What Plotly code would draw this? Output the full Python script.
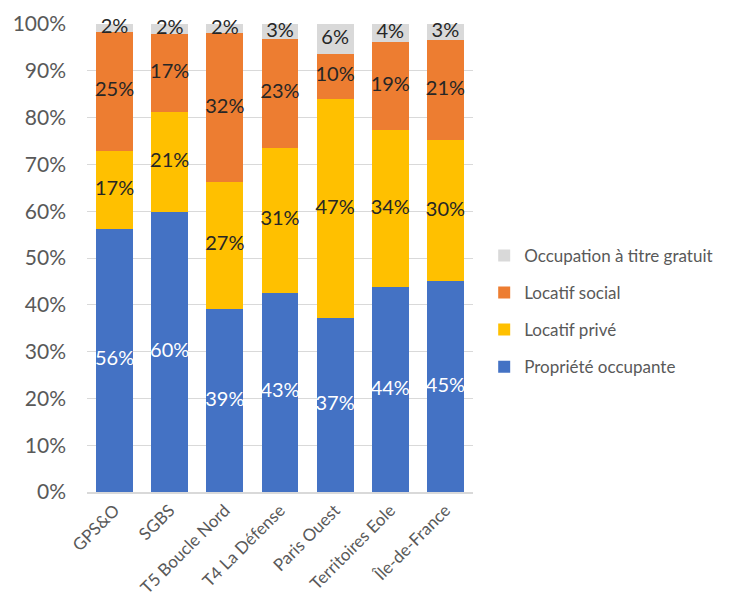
import plotly.graph_objects as go

categories = ["GPS&O", "SGBS", "T5 Boucle Nord", "T4 La Défense", "Paris Ouest", "Territoires Eole", "Île-de-France"]
proprietes = [56.3, 59.9, 39.1, 42.6, 37.1, 43.7, 45.0]
locatif_prive = [16.6, 21.3, 27.2, 31.0, 46.9, 33.6, 30.3]
locatif_social = [25.4, 16.6, 31.7, 23.2, 9.6, 18.8, 21.3]
gratuit = [1.7, 2.2, 2.0, 3.2, 6.4, 3.9, 3.4]
y_ticks = [0, 10, 20, 30, 40, 50, 60, 70, 80, 90, 100]
y_tick_labels = [f"{v}%" for v in y_ticks]

FONT = "Lato"
series = [
    ("Propriété occupante", proprietes, "#4472C4", "white"),
    ("Locatif privé", locatif_prive, "#FFC000", "#262626"),
    ("Locatif social", locatif_social, "#ED7D31", "#262626"),
    ("Occupation à titre gratuit", gratuit, "#D9D9D9", "#262626"),
]

fig = go.Figure()
base = [0.0] * len(categories)
for i, (name, vals, color, tcolor) in enumerate(series):
    fig.add_trace(go.Bar(
        x=categories, y=vals, name=name,
        marker=dict(color=color, line=dict(width=0)),
        legendgroup=f"g{i}", legendrank=10 - i,
    ))
    mids = [b + v / 2 for b, v in zip(base, vals)]
    fig.add_trace(go.Scatter(
        x=categories, y=mids, mode="text",
        text=[f"{v:.0f}%" for v in vals],
        textposition="middle center",
        textfont=dict(color=tcolor, size=20, family=FONT),
        showlegend=False, hoverinfo="skip", cliponaxis=False,
    ))
    base = [b + v for b, v in zip(base, vals)]

fig.update_layout(
    barmode="stack", bargap=0.33,
    width=732, height=603,
    margin=dict(l=79, r=267, t=15.5, b=118.5, autoexpand=False),
    paper_bgcolor="white", plot_bgcolor="white",
    font=dict(family=FONT, color="#595959"),
    legend=dict(
        x=1.029, y=0.386, xanchor="left", yanchor="middle",
        traceorder="grouped", tracegroupgap=12,
        font=dict(size=17, color="#595959", family=FONT),
        itemwidth=30,
    ),
    xaxis=dict(
        tickangle=-45, tickfont=dict(size=17, color="#595959"),
        showline=True, linecolor="#D9D9D9", linewidth=1.5, ticks="",
        showgrid=False, automargin=False,
    ),
    yaxis=dict(
        range=[0, 100], tickmode="array", tickvals=y_ticks, ticktext=y_tick_labels,
        tickfont=dict(size=21, color="#595959"),
        showgrid=True, gridcolor="#D9D9D9", gridwidth=1,
        zeroline=False, showline=False, ticks="", ticklabelstandoff=20,
        automargin=False,
    ),
)

fig.write_html("out.html")
